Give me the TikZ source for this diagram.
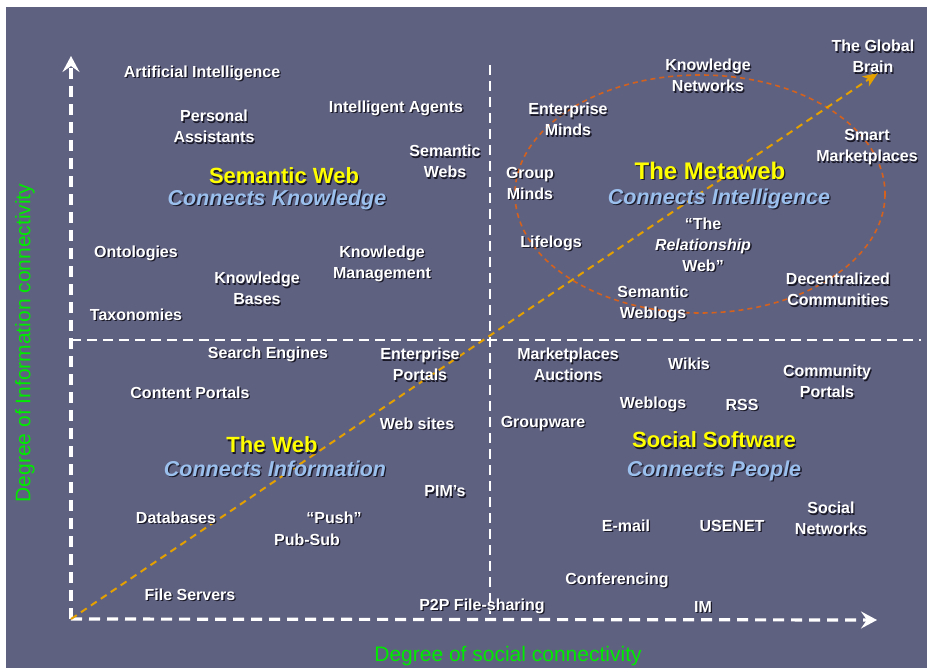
\documentclass[tikz,border=0pt]{standalone}
\usepackage{fontspec}
\setmainfont{Liberation Sans}
\usetikzlibrary{arrows.meta}

\definecolor{slate}{RGB}{95,97,128}
\definecolor{headyellow}{RGB}{255,255,0}
\definecolor{subblue}{RGB}{155,192,238}
\definecolor{axisgreen}{RGB}{0,235,0}
\definecolor{diagorange}{RGB}{228,160,0}
\definecolor{ringorange}{RGB}{212,98,30}
\definecolor{shadowcol}{RGB}{25,25,40}

\tikzset{
  lbl/.style={text=white, font=\bfseries\fontsize{16}{21}\selectfont, align=center, inner sep=0pt, yshift=-1.5pt},
  head/.style={text=headyellow, font=\bfseries\fontsize{22}{24}\selectfont, inner sep=0pt, yshift=-1pt},
  bighead/.style={text=headyellow, font=\bfseries\fontsize{24}{26}\selectfont, inner sep=0pt, yshift=-1pt},
  sub/.style={text=subblue, font=\bfseries\itshape\fontsize{21.5}{24}\selectfont, inner sep=0pt, yshift=-2.5pt},
  axislabel/.style={text=axisgreen, font=\fontsize{21}{24}\selectfont, inner sep=0pt},
  dropshadow/.style={text=shadowcol, xshift=1.3pt, yshift=-1.3pt},
  axisline/.style={white, line width=3.2pt, dash pattern=on 11pt off 7pt,
    -{Stealth[length=16pt, width=17pt, inset=6pt]}},
  midline/.style={white, line width=2.4pt, dash pattern=on 10pt off 6pt},
  trend/.style={diagorange, line width=2pt, dash pattern=on 7pt off 5pt,
    -{Stealth[length=15pt, width=12pt, inset=4pt]}},
  ring/.style={ringorange, line width=1.6pt, dash pattern=on 5pt off 4pt},
}

% text with a dark drop shadow behind it
\newcommand\shtext[4]{%
  \node[#1, dropshadow] at (#3) {#4};
  \node[#1] (#2) at (#3) {#4};}

\begin{document}
\begin{tikzpicture}[x=1pt, y=-1pt]
  \useasboundingbox (0,0) rectangle (927,668);
  \fill[white] (0,0) rectangle (927,668);
  \fill[slate] (6,7) rectangle (927,668);

  % axes and quadrant dividers
  \coordinate (O) at (71,619);
  \coordinate (ytip) at (71,56);
  \coordinate (xtip) at (877,620);
  \coordinate (vtop) at (490,65);
  \coordinate (vbot) at (490,614);
  \coordinate (hleft) at (71,340);
  \coordinate (hright) at (921,340);
  \coordinate (gtip) at (878,73);

  \draw[midline] (vtop) -- (vbot);
  \draw[midline] (hleft) -- (hright);
  \draw[axisline] (O) -- (ytip);
  \draw[axisline] (O) -- (xtip);

  % the Metaweb region
  \draw[ring] (700,194) ellipse [x radius=185, y radius=119];

  % overall trend
  \draw[trend] (O) -- (gtip);

  % axis titles
  \node[axislabel] (xlabel) at (508,656) {Degree of social connectivity};
  \node[axislabel, rotate=90] (ylabel) at (25,343) {Degree of Information connectivity};

  % Semantic Web quadrant
  \shtext{head}{sw}{284,175}{Semantic Web}
  \shtext{sub}{swsub}{277,197}{Connects Knowledge}
  \shtext{lbl}{ai}{202,72}{Artificial Intelligence}
  \shtext{lbl}{pa}{214,125}{Personal\\Assistants}
  \shtext{lbl}{ia}{396,107}{Intelligent Agents}
  \shtext{lbl}{sws}{445,160}{Semantic\\Webs}
  \shtext{lbl}{onto}{136,252}{Ontologies}
  \shtext{lbl}{kb}{257,287}{Knowledge\\Bases}
  \shtext{lbl}{km}{382,262}{Knowledge\\Management}
  \shtext{lbl}{tax}{136,313}{Taxonomies}

  % Web quadrant
  \shtext{head}{web}{272,444}{The Web}
  \shtext{sub}{websub}{275,466}{Connects Information}
  \shtext{lbl}{se}{268,353}{Search Engines}
  \shtext{lbl}{ep}{420,363}{Enterprise\\Portals}
  \shtext{lbl}{cp}{190,391}{Content Portals}
  \shtext{lbl}{ws}{417,422}{Web sites}
  \shtext{lbl}{pim}{445,490}{PIM's}
  \shtext{lbl}{db}{176,516}{Databases}
  \shtext{lbl}{push}{334,516}{``Push''}
  \shtext{lbl}{pubsub}{307,538}{Pub-Sub}
  \shtext{lbl}{fs}{190,593}{File Servers}
  \shtext{lbl}{p2p}{482,605}{P2P File-sharing}

  % Metaweb quadrant
  \shtext{bighead}{mw}{710,170}{The Metaweb}
  \shtext{sub}{mwsub}{719,196}{Connects Intelligence}
  \shtext{lbl}{em}{568,118}{Enterprise\\Minds}
  \shtext{lbl}{kn}{708,74}{Knowledge\\Networks}
  \shtext{lbl}{gb}{873,55}{The Global\\Brain}
  \shtext{lbl}{sm}{867,146}{Smart\\Marketplaces}
  \shtext{lbl}{gm}{530,182}{Group\\Minds}
  \shtext{lbl}{rw}{703,243}{``The\\\textit{Relationship}\\Web''}
  \shtext{lbl}{ll}{551,242}{Lifelogs}
  \shtext{lbl}{dc}{838,288}{Decentralized\\Communities}
  \shtext{lbl}{swl}{653,302}{Semantic\\Weblogs}

  % Social Software quadrant
  \shtext{head}{ss}{714,439}{Social Software}
  \shtext{sub}{sssub}{714,468}{Connects People}
  \shtext{lbl}{ma}{568,363}{Marketplaces\\Auctions}
  \shtext{lbl}{wiki}{689,362}{Wikis}
  \shtext{lbl}{comp}{827,380}{Community\\Portals}
  \shtext{lbl}{wl}{653,403}{Weblogs}
  \shtext{lbl}{rss}{742,403}{RSS}
  \shtext{lbl}{gw}{543,422}{Groupware}
  \shtext{lbl}{email}{626,524}{E-mail}
  \shtext{lbl}{usenet}{732,524}{USENET}
  \shtext{lbl}{sn}{831,517}{Social\\Networks}
  \shtext{lbl}{conf}{617,579}{Conferencing}
  \shtext{lbl}{im}{703,605}{IM}
\end{tikzpicture}
\end{document}
